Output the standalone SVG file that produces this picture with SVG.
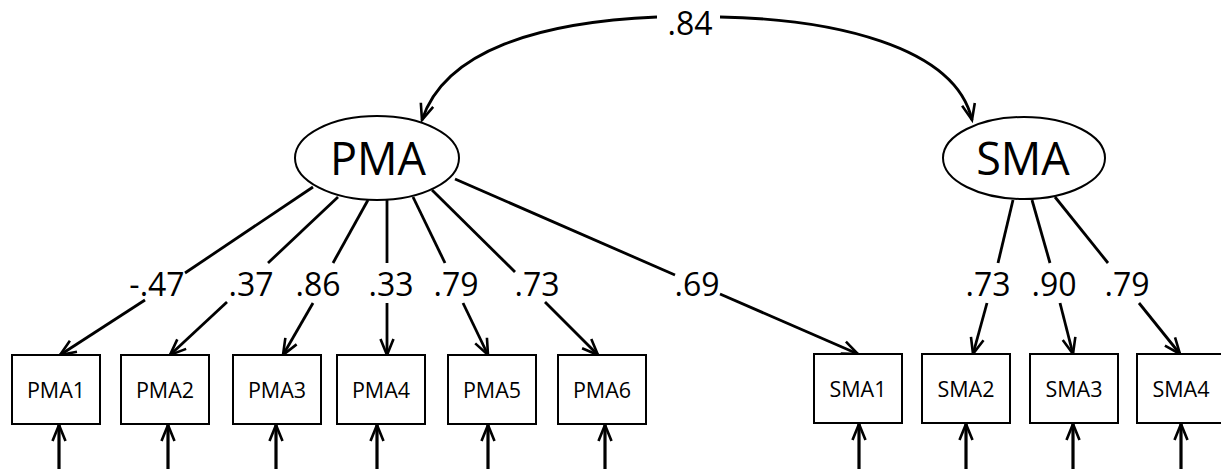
<svg xmlns="http://www.w3.org/2000/svg" width="1221" height="469" viewBox="0 0 1221 469">
<style>
  .box { fill: #fff; stroke: #000; stroke-width: 2; }
  .lat { fill: #fff; stroke: #000; stroke-width: 2; }
  .ltxt { font-family: "Open Sans", "DejaVu Sans", sans-serif; font-size: 45px; fill: #000; text-anchor: middle; }
  .btxt { font-family: "Open Sans", "DejaVu Sans", sans-serif; font-size: 21.5px; fill: #000; text-anchor: middle; }
  .num { font-family: "Open Sans", "DejaVu Sans", sans-serif; font-size: 32px; fill: #000; text-anchor: middle; }
  .ln { fill: none; stroke: #000; stroke-width: 2.8; }
  .err { fill: none; stroke: #000; stroke-width: 3.2; }
</style>
<defs>
  <marker id="ah" markerUnits="userSpaceOnUse" markerWidth="30" markerHeight="30" viewBox="-20 -15 30 30" refX="0" refY="0" orient="auto" overflow="visible">
    <path d="M-16,-6.5 L0,0 L-16,6.5" fill="none" stroke="#000" stroke-width="2.6" stroke-linejoin="miter"/>
  </marker>
</defs>

<g id="connectors">
  <!-- covariance -->
  <path class="ln" d="M657,17 C540,22 445,50 422,120" marker-end="url(#ah)"/>
  <path class="ln" d="M720,17 C830,19 955,45 972,120" marker-end="url(#ah)"/>
  <!-- PMA loadings -->
  <path class="ln" d="M313,187 L185,273"/>
  <path class="ln" d="M145,300 L60,355" marker-end="url(#ah)"/>
  <path class="ln" d="M338,197 L268,263"/>
  <path class="ln" d="M227,302 L170,355" marker-end="url(#ah)"/>
  <path class="ln" d="M368,200 L333,263"/>
  <path class="ln" d="M313,303 L283,355" marker-end="url(#ah)"/>
  <path class="ln" d="M387,200 L387,263"/>
  <path class="ln" d="M387,303 L387,355" marker-end="url(#ah)"/>
  <path class="ln" d="M413,197 L445,263"/>
  <path class="ln" d="M463,303 L488,355" marker-end="url(#ah)"/>
  <path class="ln" d="M432,190 L515,272"/>
  <path class="ln" d="M545,302 L598,355" marker-end="url(#ah)"/>
  <path class="ln" d="M455,179 L675,275"/>
  <path class="ln" d="M720,294 L858,354" marker-end="url(#ah)"/>
  <!-- SMA loadings -->
  <path class="ln" d="M1013,200 L998,263"/>
  <path class="ln" d="M987,303 L973,354" marker-end="url(#ah)"/>
  <path class="ln" d="M1032,200 L1050,263"/>
  <path class="ln" d="M1060,303 L1073,354" marker-end="url(#ah)"/>
  <path class="ln" d="M1055,197 L1108,263"/>
  <path class="ln" d="M1139,303 L1180,354" marker-end="url(#ah)"/>
  <!-- error arrows -->
  <path class="err" d="M59,469 L59,425" marker-end="url(#ah)"/>
  <path class="err" d="M168,469 L168,425" marker-end="url(#ah)"/>
  <path class="err" d="M276,469 L276,425" marker-end="url(#ah)"/>
  <path class="err" d="M377,469 L377,425" marker-end="url(#ah)"/>
  <path class="err" d="M488,469 L488,425" marker-end="url(#ah)"/>
  <path class="err" d="M605,469 L605,425" marker-end="url(#ah)"/>
  <path class="err" d="M859,469 L859,424" marker-end="url(#ah)"/>
  <path class="err" d="M966,469 L966,424" marker-end="url(#ah)"/>
  <path class="err" d="M1073,469 L1073,424" marker-end="url(#ah)"/>
  <path class="err" d="M1181,469 L1181,424" marker-end="url(#ah)"/>
  <!-- labels -->
  <text class="num" x="690" y="35">.84</text>
  <text class="num" x="157" y="296">-.47</text>
  <text class="num" x="251" y="296">.37</text>
  <text class="num" x="318" y="296">.86</text>
  <text class="num" x="391" y="296">.33</text>
  <text class="num" x="456" y="296">.79</text>
  <text class="num" x="537" y="296">.73</text>
  <text class="num" x="697" y="296">.69</text>
  <text class="num" x="988" y="296">.73</text>
  <text class="num" x="1054" y="296">.90</text>
  <text class="num" x="1127" y="296">.79</text>
</g>

<g id="PMA"><ellipse class="lat" cx="377" cy="158" rx="82" ry="42"/><text class="ltxt" x="378" y="175">PMA</text></g>
<g id="SMA"><ellipse class="lat" cx="1024" cy="158" rx="81" ry="41"/><text class="ltxt" x="1023" y="175">SMA</text></g>

<g id="PMA1"><rect class="box" x="12" y="355" width="88" height="69"/><text class="btxt" x="56" y="397.5">PMA1</text></g>
<g id="PMA2"><rect class="box" x="121" y="355" width="88" height="69"/><text class="btxt" x="165" y="397.5">PMA2</text></g>
<g id="PMA3"><rect class="box" x="233" y="355" width="88" height="69"/><text class="btxt" x="277" y="397.5">PMA3</text></g>
<g id="PMA4"><rect class="box" x="337" y="355" width="88" height="69"/><text class="btxt" x="381" y="397.5">PMA4</text></g>
<g id="PMA5"><rect class="box" x="448" y="355" width="88" height="69"/><text class="btxt" x="492" y="397.5">PMA5</text></g>
<g id="PMA6"><rect class="box" x="558" y="355" width="88" height="69"/><text class="btxt" x="602" y="397.5">PMA6</text></g>
<g id="SMA1"><rect class="box" x="814" y="354" width="88" height="69"/><text class="btxt" x="858" y="396.5">SMA1</text></g>
<g id="SMA2"><rect class="box" x="922" y="354" width="88" height="69"/><text class="btxt" x="966" y="396.5">SMA2</text></g>
<g id="SMA3"><rect class="box" x="1030" y="354" width="88" height="69"/><text class="btxt" x="1074" y="396.5">SMA3</text></g>
<g id="SMA4"><rect class="box" x="1137" y="354" width="88" height="69"/><text class="btxt" x="1181" y="396.5">SMA4</text></g>
</svg>
